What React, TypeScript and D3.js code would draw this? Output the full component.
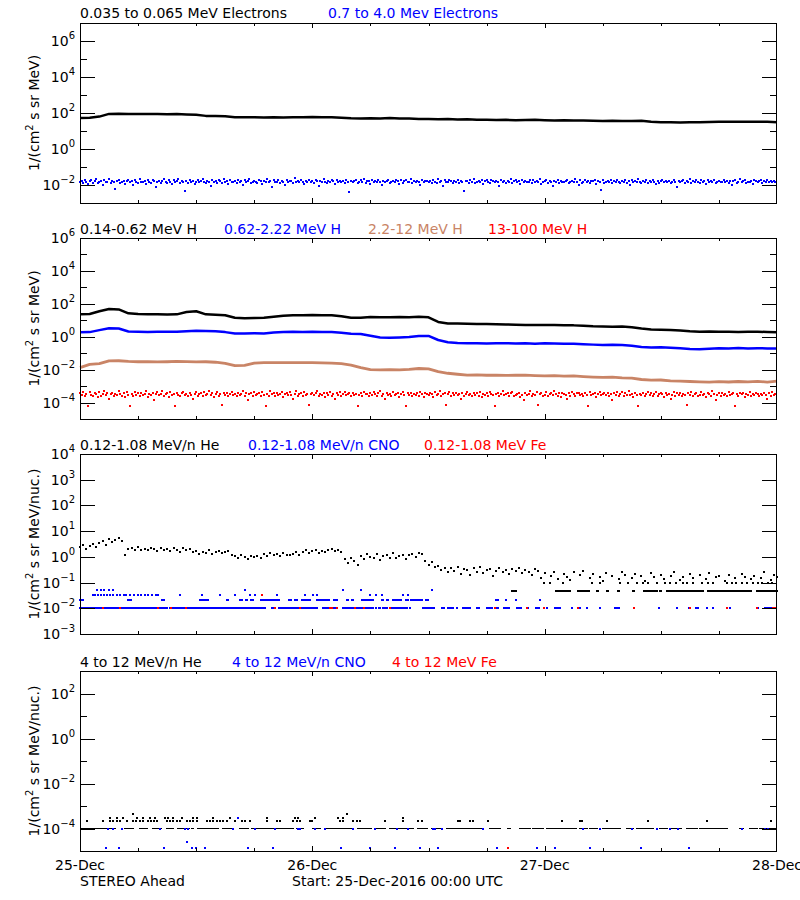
import React from 'react';
import * as d3 from 'd3';

const BLUE = '#0000ff';
const RED = '#ff0000';
const BROWN = '#c98466';
const BLACK = '#000000';
const FONT = "'DejaVu Sans', sans-serif";

// ---------- x axis (hours since 25-Dec-2016 00:00 UTC) ----------
const xDayLabels = ['25-Dec', '26-Dec', '27-Dec', '28-Dec'];
const xDayHours = [0, 24, 48, 72];

// ---------- Panel 1 : electrons (log10 values) ----------
// 0.035-0.065 MeV electrons, hourly
const p1ElecLow = [1.72, 1.73, 1.80, 1.95, 1.96, 1.95, 1.94, 1.95, 1.94, 1.93, 1.94, 1.92, 1.90, 1.84, 1.83, 1.82, 1.77, 1.76, 1.77, 1.75, 1.76, 1.75, 1.77, 1.76, 1.78, 1.76, 1.77, 1.74, 1.71, 1.70, 1.71, 1.70, 1.72, 1.70, 1.69, 1.67, 1.66, 1.65, 1.66, 1.64, 1.65, 1.63, 1.62, 1.61, 1.62, 1.60, 1.61, 1.62, 1.60, 1.59, 1.60, 1.58, 1.58, 1.57, 1.56, 1.57, 1.56, 1.55, 1.57, 1.52, 1.49, 1.48, 1.47, 1.48, 1.49, 1.50, 1.51, 1.52, 1.51, 1.52, 1.52, 1.51, 1.49];
// 0.7-4.0 MeV electrons, 10-minute samples (log10 x 100)
const p1ElecHigh = [
  -182, -176, -189, -171, -185, -193, -179, -174, -187, -180, -169, -191,
  -184, -178, -198, -173, -186, -181, -167, -190, -176, -184, -224, -179,
  -172, -188, -182, -175, -193, -180, -170, -186, -178, -201, -174, -183,
  -189, -168, -181, -185, -177, -196, -173, -182, -187, -171, -179, -213,
  -184, -175, -190, -178, -169, -183, -188, -174, -181, -197, -172, -185,
  -180, -166, -189, -177, -183, -233, -175, -187, -170, -182, -178, -192,
  -181, -173, -186, -179, -168, -184, -191, -176, -182, -205, -171, -185,
  -178, -187, -174, -180, -189, -169, -183, -177, -195, -172, -186, -181,
  -175, -188, -170, -182, -179, -201, -173, -185, -178, -167, -190, -184,
  -176, -183, -187, -172, -180, -193, -175, -182, -169, -186, -179, -211,
  -174, -185, -181, -171, -188, -177, -183, -198, -170, -184, -180, -175,
  -189, -163, -182, -178, -186, -173, -181, -194, -176, -185, -171, -183,
  -179, -187, -172, -180, -205, -175, -184, -169, -182, -189, -177, -185,
  -173, -180, -196, -171, -186, -178, -183, -175, -188, -170, -181, -240,
  -176, -184, -179, -172, -190, -182, -174, -185, -169, -187, -180, -177,
  -192, -173, -183, -179, -186, -171, -181, -202, -175, -184, -178, -170,
  -188, -182, -176, -185, -173, -180, -195, -172, -187, -179, -174, -183,
  -181, -169, -189, -177, -184, -175, -182, -199, -171, -186, -178, -180,
  -183, -177, -190, -174, -181, -187, -168, -185, -179, -208, -173, -182,
  -186, -172, -180, -191, -176, -184, -170, -188, -178, -183, -231, -175,
  -179, -187, -173, -182, -169, -190, -181, -176, -185, -172, -194, -180,
  -174, -183, -188, -171, -179, -186, -177, -182, -203, -170, -184, -178,
  -190, -175, -181, -168, -187, -180, -173, -185, -179, -196, -172, -183,
  -177, -186, -182, -174, -189, -171, -184, -178, -181, -167, -192, -185,
  -180, -173, -187, -179, -184, -207, -176, -182, -170, -188, -175, -181,
  -186, -178, -172, -190, -183, -176, -185, -169, -181, -198, -174, -187,
  -182, -171, -184, -179, -188, -175, -180, -173, -193, -177, -185, -226,
  -173, -189, -181, -176, -183, -170, -187, -179, -184, -172, -182, -191,
  -178, -185, -174, -188, -180, -200, -171, -184, -177, -186, -169, -183,
  -187, -176, -182, -173, -190, -179, -185, -172, -181, -194, -175, -188,
  -180, -170, -186, -178, -183, -175, -189, -181, -174, -185, -210, -177,
  -184, -179, -172, -187, -176, -182, -168, -191, -180, -186, -173, -181,
  -188, -174, -183, -179, -197, -172, -185, -177, -182, -170, -189, -184,
  -176, -186, -181, -173, -184, -178, -190, -175, -202, -180, -171, -187,
  -182, -169, -185, -179, -174, -188, -181, -183, -176, -193, -172, -178,
  -186, -180, -173, -189, -177, -184, -171, -182, -178, -185, -175, -181,
];

// ---------- Panel 2 : protons (log10 values, hourly) ----------
const p2H1 = [1.36, 1.38, 1.55, 1.68, 1.66, 1.42, 1.38, 1.36, 1.37, 1.35, 1.36, 1.50, 1.55, 1.36, 1.34, 1.30, 1.15, 1.13, 1.14, 1.15, 1.22, 1.28, 1.30, 1.31, 1.32, 1.30, 1.31, 1.25, 1.16, 1.15, 1.20, 1.19, 1.18, 1.20, 1.19, 1.22, 1.18, 0.90, 0.80, 0.81, 0.79, 0.78, 0.77, 0.76, 0.75, 0.73, 0.72, 0.71, 0.72, 0.71, 0.70, 0.69, 0.66, 0.63, 0.62, 0.61, 0.62, 0.58, 0.50, 0.44, 0.42, 0.41, 0.38, 0.33, 0.31, 0.32, 0.30, 0.31, 0.29, 0.30, 0.30, 0.29, 0.27];
const p2H2 = [0.27, 0.28, 0.40, 0.51, 0.50, 0.32, 0.30, 0.29, 0.30, 0.31, 0.30, 0.34, 0.36, 0.35, 0.33, 0.28, 0.20, 0.19, 0.21, 0.20, 0.26, 0.29, 0.30, 0.29, 0.30, 0.29, 0.28, 0.24, 0.18, 0.16, 0.06, -0.05, -0.06, -0.04, -0.02, 0.04, 0.05, -0.20, -0.33, -0.38, -0.40, -0.39, -0.41, -0.40, -0.39, -0.41, -0.40, -0.42, -0.40, -0.41, -0.43, -0.42, -0.45, -0.48, -0.50, -0.49, -0.51, -0.55, -0.62, -0.66, -0.64, -0.67, -0.70, -0.74, -0.76, -0.73, -0.70, -0.71, -0.69, -0.72, -0.70, -0.71, -0.72];
const p2H3 = [-1.88, -1.68, -1.64, -1.47, -1.46, -1.50, -1.52, -1.51, -1.53, -1.52, -1.50, -1.51, -1.53, -1.52, -1.55, -1.62, -1.76, -1.74, -1.60, -1.58, -1.57, -1.58, -1.57, -1.58, -1.57, -1.59, -1.60, -1.64, -1.72, -1.88, -2.00, -2.02, -2.00, -2.01, -1.98, -1.93, -1.95, -2.12, -2.22, -2.28, -2.33, -2.32, -2.34, -2.33, -2.35, -2.34, -2.33, -2.36, -2.38, -2.37, -2.39, -2.38, -2.42, -2.45, -2.47, -2.46, -2.50, -2.52, -2.60, -2.64, -2.63, -2.68, -2.70, -2.72, -2.74, -2.76, -2.73, -2.75, -2.72, -2.74, -2.71, -2.76, -2.70];
// 13-100 MeV H, 10-minute samples (log10 x 100)
const p2H4 = [
  -345, -352, -338, -360, -348, -420, -333, -355, -362, -341, -350, -368,
  -336, -358, -347, -329, -356, -344, -381, -351, -339, -362, -346, -355,
  -332, -349, -358, -343, -366, -337, -353, -418, -347, -359, -334, -352,
  -345, -361, -340, -356, -349, -330, -364, -348, -354, -342, -386, -351,
  -338, -357, -346, -331, -359, -350, -343, -367, -336, -355, -348, -422,
  -341, -353, -360, -345, -335, -357, -349, -363, -340, -352, -378, -346,
  -333, -358, -350, -344, -361, -338, -355, -347, -329, -356, -342, -365,
  -351, -337, -359, -348, -415, -343, -354, -340, -362, -349, -334, -357,
  -346, -360, -339, -352, -347, -331, -358, -345, -383, -350, -341, -363,
  -336, -355, -349, -344, -361, -338, -353, -420, -347, -359, -332, -351,
  -345, -362, -340, -356, -348, -334, -364, -350, -343, -357, -338, -352,
  -376, -346, -331, -359, -349, -342, -360, -337, -354, -347, -416, -351,
  -339, -356, -345, -328, -361, -348, -353, -340, -365, -344, -352, -336,
  -358, -349, -381, -342, -355, -338, -360, -347, -333, -357, -350, -344,
  -362, -339, -354, -346, -419, -352, -341, -359, -335, -350, -347, -363,
  -343, -356, -338, -351, -360, -345, -332, -358, -349, -377, -340, -354,
  -346, -361, -337, -353, -348, -342, -364, -350, -334, -357, -423, -345,
  -352, -339, -360, -347, -355, -341, -358, -336, -350, -365, -344, -349,
  -357, -343, -350, -366, -337, -354, -346, -330, -359, -351, -340, -417,
  -348, -335, -361, -344, -353, -339, -356, -347, -380, -342, -358, -350,
  -333, -355, -349, -362, -341, -352, -345, -359, -338, -364, -347, -353,
  -344, -360, -336, -351, -357, -422, -346, -340, -363, -349, -331, -356,
  -350, -342, -358, -345, -334, -361, -353, -347, -339, -366, -352, -384,
  -341, -357, -348, -329, -360, -346, -354, -337, -415, -350, -343, -358,
  -355, -338, -362, -349, -344, -356, -332, -351, -359, -345, -367, -340,
  -347, -353, -379, -342, -358, -336, -350, -363, -345, -339, -356, -348,
  -360, -344, -352, -418, -337, -355, -349, -341, -364, -346, -333, -357,
  -349, -339, -356, -345, -361, -350, -382, -343, -354, -338, -359, -347,
  -336, -358, -344, -352, -330, -357, -348, -365, -341, -353, -420, -346,
  -355, -342, -361, -349, -337, -354, -345, -359, -351, -334, -362, -348,
  -343, -350, -366, -339, -356, -347, -378, -352, -338, -360, -345, -355,
  -340, -363, -349, -357, -416, -344, -353, -336, -359, -350, -342, -361,
  -352, -337, -355, -346, -364, -341, -351, -358, -331, -348, -385, -354,
  -345, -359, -340, -353, -348, -362, -337, -356, -350, -343, -421, -347,
  -358, -344, -351, -339, -366, -349, -354, -335, -361, -346, -352, -342,
  -350, -363, -347, -356, -341, -353, -380, -344, -359, -338, -355, -349,
];

// ---------- Panel 3 : 0.12-1.08 MeV/n heavy ions ----------
// He, 20-minute samples from 00:00 (log10 x 100)
const p3HeEarly = [
  38, 45, 32, 42, 50, 40,
  55, 62, 48, 70, 58, 66, 74, 60,
  8, 30, 34, 26, 38, 28, 32,
  25, 36, 29, 22, 34, 27, 31, 24, 35, 28, 20, 33, 26, 30, 18,
  24, 12, 20, 15, 26, 10, 19, 22, 14, 17, 21, 8,
  2, -5, 8, 0, -8, 5, -2, 3, -4,
  10, 4, 14, 7, 12, 2, 16, 9, 6,
  12, 20, 8, 18, 25, 14, 22, 28, 16, 24, 19, 26, 30, 21, 27, 18,
  -10, -25, -5, -18, -30,
  5, -8, 12, 0, -5, 10, -12, 4, 8, -3, 14, -6, 2, 9, -10, 6, 11, 1, 15, 12,
  -15, -30, -20, -40,
];
// He, 20-minute samples from 37:00 (null = no point)
const p3HeLate = [
  -35, -52, -42, -60, -45, -55, -38, -66, -48, -52, -70, -44, -58, -40, -62, -50,
  -46, -75, -55, -42, -60, -52, -68, -48, -56, -44, -64, -50, -58, -72, -46, -54,
  -84, -62, null, -75, -58, -85, null, -66, -80, -90, -60, null, -72, -56, null, -84,
  -68, null, -78, -92, -64, null, -74, null, -88, -58, -70, null, -82, -66, null, -76,
  -94, null, -62, -80, null, -70, -86, null, -74, -60, null, -90, -78, null, -68, -84,
  null, -72, null, -88, -64, null, -80, -76, null, -92, -70, null, -84, null, -66, -78,
  null, -88, -74, null, -82, -60, null, -90, -72, -80,
];
// He quantised floor values
const p3HeTenthHours = [47.9, 48.6, 49.9, 52.9, 53.7, 55.8, 56.6, 57.5, 58.2, 58.7, 59.6, 60.4, 60.9, 61.6, 62.3, 62.7, 63.3, 64.3, 64.9, 65.4, 66.8, 67.4, 67.8, 68.4, 68.9, 69.5, 70.0, 70.5, 71.1, 71.5];
const p3HeFloorRuns = [[44.6, 45.0], [49.2, 50.6], [51.4, 52.5], [53.4, 53.5], [54.4, 54.5], [55.6, 55.7], [57.1, 57.2], [58.3, 59.6], [59.9, 60.0], [60.6, 63.2], [63.3, 64.3], [64.9, 67.5], [67.7, 69.4], [69.9, 72]];
// CNO at 0.010 (runs of hours)
const p3CnoRunsA = [[0, 2.0], [2.2, 3.1], [3.3, 4.0], [4.2, 5.4], [5.6, 8.0], [8.2, 9.0], [9.3, 10.9], [11.1, 12.3], [12.5, 14.8], [15.0, 16.5], [16.7, 17.0], [17.1, 17.9], [18.1, 19.1], [19.8, 19.9], [20.6, 20.9], [21.0, 22.6], [22.8, 24.0], [24.2, 24.5], [25.1, 26.1], [26.3, 26.3], [27.2, 28.2], [28.6, 29.1], [29.3, 29.5], [29.8, 30.3], [30.6, 30.6], [30.9, 31.0], [31.3, 31.7], [32.2, 33.0], [33.3, 33.8], [34.1, 34.1], [35.4, 35.8], [36.0, 36.2], [36.5, 36.6], [37.4, 37.6], [38.0, 38.5], [38.9, 38.9], [39.6, 40.3], [41.0, 41.2], [42.0, 42.5], [43.1, 43.2], [43.8, 44.3], [45.1, 45.5], [46.3, 46.3], [47.1, 47.4], [48.2, 48.2], [49.1, 49.6], [50.8, 50.8], [51.4, 51.4], [51.7, 51.7], [52.4, 52.4], [53.7, 53.7], [55.3, 55.7], [59.8, 59.8], [61.7, 61.7], [62.9, 62.9], [63.6, 63.8], [64.8, 64.8], [65.4, 65.4], [66.8, 66.8], [67.1, 67.1], [70.0, 70.0], [70.8, 71.6]];
// CNO at 0.021 (runs of hours)
const p3CnoRunsB = [[0, 0.3], [5.0, 5.3], [8.5, 8.7], [12.4, 13.2], [15.2, 15.3], [16.5, 16.7], [17.1, 17.2], [17.7, 17.9], [18.7, 18.9], [19.1, 19.3], [19.5, 20.5], [21.6, 21.8], [22.2, 22.4], [22.9, 23.2], [23.5, 23.8], [24.5, 25.5], [25.6, 25.7], [26.2, 26.5], [27.6, 27.7], [28.1, 28.2], [29.1, 30.1], [30.3, 30.3], [31.2, 31.3], [31.7, 31.8], [32.3, 32.7], [32.8, 33.1], [33.7, 33.9], [34.2, 35.3], [35.7, 35.9], [43.0, 43.2], [44.0, 44.0], [45.0, 45.0], [47.5, 47.5]];
// CNO at 0.033 and 0.051 (hours)
const p3CnoC = [1.3, 1.6, 1.9, 2.2, 2.5, 2.8, 3.1, 3.4, 3.8, 4.1, 4.5, 4.8, 5.2, 5.6, 6.0, 6.3, 6.7, 7.0, 7.4, 7.8, 8.1, 10.3, 12.6, 14.5, 16.0, 17.6, 18.1, 20.4, 23.2, 24.1, 24.5, 30.0, 30.6, 31.2, 33.4, 33.9];
const p3CnoD = [1.8, 2.2, 2.5, 3.0, 3.4, 17.0, 27.2, 29.0, 36.4];
// Fe (hours)
const p3FeA = [2.4, 4.1, 8.1, 9.4, 11.0, 20.1, 22.7, 25.8, 26.0, 26.5, 28.4, 29.3, 32.0, 42.9, 46.2, 47.9, 51.4, 57.2, 63.0, 66.8, 69.9, 71.6, 71.8];
const p3FeC = [18.8];

// ---------- Panel 4 : 4-12 MeV/n heavy ions (hours at quantised levels) ----------
const p4HeFloorRuns = [[0.1, 1.5], [1.7, 2.8], [3.1, 3.6], [4.6, 5.4], [6.2, 6.9], [7.5, 8.3], [9.0, 9.6], [10.1, 11.2], [11.6, 11.7], [12.2, 13.1], [13.2, 14.2], [14.8, 15.7], [16.5, 17.3], [17.8, 18.6], [18.8, 19.9], [20.1, 22.0], [22.4, 23.0], [24.1, 24.8], [25.3, 27.4], [27.6, 28.2], [28.7, 30.0], [30.5, 31.5], [32.0, 33.1], [33.4, 34.4], [34.9, 35.8], [36.4, 37.4], [37.9, 41.5], [42.4, 43.4], [44.2, 44.4], [45.5, 46.5], [46.8, 47.8], [48.2, 49.3], [49.6, 51.3], [51.7, 52.4], [52.7, 53.4], [54.0, 55.8], [56.5, 57.1], [57.5, 59.2], [59.9, 60.6], [60.9, 62.0], [62.7, 63.7], [64.0, 65.1], [65.4, 66.8], [68.2, 68.5], [69.2, 69.9], [70.2, 71.9]];
const p4HeMid = [0.7, 2.4, 3.1, 3.4, 3.8, 4.1, 4.9, 5.5, 5.8, 6.2, 6.5, 7.0, 7.3, 7.6, 8.0, 9.0, 9.3, 9.6, 10.0, 10.3, 11.1, 11.4, 11.7, 12.1, 13.1, 13.4, 13.7, 14.2, 14.5, 14.8, 15.2, 16.0, 16.7, 17.0, 17.6, 19.3, 20.4, 20.7, 22.0, 22.4, 22.7, 23.8, 24.0, 26.9, 27.2, 28.2, 28.6, 28.9, 31.5, 33.4, 34.9, 35.3, 39.0, 39.3, 40.3, 40.6, 42.1, 49.8, 51.7, 51.9, 54.4, 58.7, 64.8, 71.4];
const p4HeHigh = [3.1, 3.8, 4.4, 5.9, 6.5, 7.2, 7.7, 8.8, 9.1, 9.6, 10.5, 11.7, 12.1, 13.7, 15.5, 19.3, 22.2, 22.5, 24.3, 26.7, 27.2, 33.4];
const p4HeTop = [5.5, 27.6];
const p4CnoFloor = [2.9, 3.4, 4.3, 8.3, 10.8, 11.2, 15.8, 18.1, 20.1, 22.5, 22.7, 24.3, 25.3, 28.2, 30.5, 32.7, 33.9, 36.5, 36.7, 37.4, 41.6, 52.0, 53.7, 57.0, 59.6, 60.9, 61.8, 68.4, 70.8, 71.1];
const p4CnoLow = [2.7, 4.0, 8.7, 11.6, 12.0, 12.9, 17.4, 19.9, 27.0, 30.0, 32.5, 35.1, 37.0, 43.1, 47.2, 49.1, 52.7, 58.0, 62.9];
const p4CnoMid = [11.1];
const p4CnoUp = [16.3];
const p4FeLow = [44.2];

// ---------- layout ----------
const X0 = 80;
const X1 = 777;
const xScale = d3.scaleLinear().domain([0, 72]).range([X0, X1]);

type Panel = { top: number; bottom: number; lo: number; hi: number; labels: number[]; unit: string };
const P1: Panel = { top: 23, bottom: 203, lo: -3, hi: 7, labels: [6, 4, 2, 0, -2], unit: 'MeV)' };
const P2: Panel = { top: 238, bottom: 419, lo: -5, hi: 6, labels: [6, 4, 2, 0, -2, -4], unit: 'MeV)' };
const P3: Panel = { top: 454, bottom: 634, lo: -3, hi: 4, labels: [4, 3, 2, 1, 0, -1, -2, -3], unit: 'MeV/nuc.)' };
const P4: Panel = { top: 671, bottom: 851, lo: -5, hi: 3, labels: [2, 0, -2, -4], unit: 'MeV/nuc.)' };

const yScaleFor = (p: Panel) => d3.scaleLog().domain([10 ** p.lo, 10 ** p.hi]).range([p.bottom, p.top]);

function Frame({ p }: { p: Panel }) {
  const y = yScaleFor(p);
  const exps = d3.range(p.lo, p.hi + 1);
  const hours = d3.range(6, 72, 6);
  return (
    <g>
      <rect x={X0 + 0.5} y={p.top + 0.5} width={X1 - X0 - 1} height={p.bottom - p.top} fill="none" stroke={BLACK} strokeWidth={1} />
      {exps.filter((e) => e > p.lo && e < p.hi).map((e) => {
        const yy = Math.round(y(10 ** e)) + 0.5;
        const len = p.labels.includes(e) ? 15 : 7;
        return (
          <g key={'t' + e} stroke={BLACK}>
            <line x1={X0} x2={X0 + len} y1={yy} y2={yy} />
            <line x1={X1 - len} x2={X1} y1={yy} y2={yy} />
          </g>
        );
      })}
      {p.labels.map((e) => {
        const yy = y(10 ** e);
        return (
          <text key={'l' + e} x={75} y={yy + 5} textAnchor="end" fontFamily={FONT} fontSize={14} fill={BLACK}>
            10<tspan dy={-7} fontSize={10}>{e < 0 ? '\u2212' + Math.abs(e) : String(e)}</tspan>
          </text>
        );
      })}
      {hours.map((h) => {
        const xx = Math.round(xScale(h)) + 0.5;
        const len = h % 24 === 0 ? 5 : 3;
        return (
          <g key={'x' + h} stroke={BLACK}>
            <line x1={xx} x2={xx} y1={p.bottom} y2={p.bottom - len} />
            <line x1={xx} x2={xx} y1={p.top} y2={p.top + len} />
          </g>
        );
      })}
      <text transform={`translate(39,${(p.top + p.bottom) / 2}) rotate(-90)`} textAnchor="middle" fontFamily={FONT} fontSize={14} fill={BLACK}>
        1/(cm<tspan dy={-6} fontSize={10}>2</tspan><tspan dy={6}>{' s sr ' + p.unit}</tspan>
      </text>
    </g>
  );
}

type Title = { t: string; c: string; x: number };
function Titles({ items, y }: { items: Title[]; y: number }) {
  return (
    <g>
      {items.map((it, i) => (
        <text key={i} x={it.x} y={y} fontFamily={FONT} fontSize={14} fill={it.c}>{it.t}</text>
      ))}
    </g>
  );
}

function Line({ p, vals, color, w = 2.5 }: { p: Panel; vals: number[]; color: string; w?: number }) {
  const y = yScaleFor(p);
  const gen = d3.line<number>().x((_, i) => xScale(i)).y((v) => y(10 ** v));
  return <path d={gen(vals) || ''} fill="none" stroke={color} strokeWidth={w} strokeLinejoin="round" />;
}

function Dots({ p, pts, color, size = 2 }: { p: Panel; pts: { h: number; v: number }[]; color: string; size?: number }) {
  const y = yScaleFor(p);
  return (
    <g fill={color}>
      {pts.filter((d) => d.h <= 72).map((d, i) => (
        <rect key={i} x={Math.round(xScale(d.h) - size / 2)} y={Math.round(y(10 ** d.v) - size / 2)} width={size} height={size} />
      ))}
    </g>
  );
}

function Runs({ p, runs, level, color, h = 2 }: { p: Panel; runs: number[][]; level: number; color: string; h?: number }) {
  const y = yScaleFor(p);
  const yy = Math.round(y(10 ** level) - h / 2);
  return (
    <g fill={color}>
      {runs.map((r, i) => (
        <rect key={i} x={Math.round(xScale(r[0]) - 1)} y={yy} width={Math.max(2, Math.round(xScale(r[1]) - xScale(r[0]) + 2))} height={h} />
      ))}
    </g>
  );
}

const cadence = (arr: (number | null)[], start: number, step: number) =>
  arr.map((v, i) => (v === null ? null : { h: start + i * step, v: v / 100 })).filter((d) => d !== null) as { h: number; v: number }[];
const atLevel = (hours: number[], level: number) => hours.map((h) => ({ h, v: level }));

export default function App() {
  return (
    <svg width={800} height={900} style={{ position: 'absolute', left: 0, top: 0, background: '#fff' }}>
      <rect x={0} y={0} width={800} height={900} fill="#fff" />

      {/* Panel 1 */}
      <Titles y={18} items={[{ t: '0.035 to 0.065 MeV Electrons', c: BLACK, x: 80 }, { t: '0.7 to 4.0 Mev Electrons', c: BLUE, x: 328 }]} />
      <Line p={P1} vals={p1ElecLow} color={BLACK} w={2.5} />
      <Dots p={P1} pts={cadence(p1ElecHigh, 0, 1 / 6)} color={BLUE} />
      <Frame p={P1} />

      {/* Panel 2 */}
      <Titles y={234} items={[{ t: '0.14-0.62 MeV H', c: BLACK, x: 80 }, { t: '0.62-2.22 MeV H', c: BLUE, x: 224 }, { t: '2.2-12 MeV H', c: BROWN, x: 368 }, { t: '13-100 MeV H', c: RED, x: 488 }]} />
      <Dots p={P2} pts={cadence(p2H4, 0, 1 / 6)} color={RED} />
      <Line p={P2} vals={p2H3} color={BROWN} w={2.8} />
      <Line p={P2} vals={p2H2} color={BLUE} w={2.5} />
      <Line p={P2} vals={p2H1} color={BLACK} w={2.5} />
      <Frame p={P2} />

      {/* Panel 3 */}
      <Titles y={450} items={[{ t: '0.12-1.08 MeV/n He', c: BLACK, x: 80 }, { t: '0.12-1.08 MeV/n CNO', c: BLUE, x: 248 }, { t: '0.12-1.08 MeV Fe', c: RED, x: 424 }]} />
      <Dots p={P3} pts={cadence(p3HeEarly, 0, 1 / 3)} color={BLACK} />
      <Dots p={P3} pts={cadence(p3HeLate, 37, 1 / 3)} color={BLACK} />
      <Dots p={P3} pts={atLevel(p3HeTenthHours, -1.0)} color={BLACK} />
      <Runs p={P3} runs={p3HeFloorRuns} level={-1.32} color={BLACK} />
      <Runs p={P3} runs={p3CnoRunsA} level={-2.0} color={BLUE} />
      <Runs p={P3} runs={p3CnoRunsB} level={-1.68} color={BLUE} />
      <Dots p={P3} pts={atLevel(p3CnoC, -1.48)} color={BLUE} />
      <Dots p={P3} pts={atLevel(p3CnoD, -1.29)} color={BLUE} />
      <Dots p={P3} pts={atLevel(p3FeA, -2.0)} color={RED} />
      <Dots p={P3} pts={atLevel(p3FeC, -1.48)} color={RED} />
      <Frame p={P3} />

      {/* Panel 4 */}
      <Titles y={667} items={[{ t: '4 to 12 MeV/n He', c: BLACK, x: 80 }, { t: '4 to 12 MeV/n CNO', c: BLUE, x: 232 }, { t: '4 to 12 MeV Fe', c: RED, x: 392 }]} />
      <Runs p={P4} runs={p4HeFloorRuns} level={-4.0} color={BLACK} h={1} />
      <Dots p={P4} pts={atLevel(p4HeMid, -3.67)} color={BLACK} />
      <Dots p={P4} pts={atLevel(p4HeHigh, -3.52)} color={BLACK} />
      <Dots p={P4} pts={atLevel(p4HeTop, -3.36)} color={BLACK} />
      <Dots p={P4} pts={atLevel(p4CnoFloor, -4.0)} color={BLUE} />
      <Dots p={P4} pts={atLevel(p4CnoLow, -4.88)} color={BLUE} />
      <Dots p={P4} pts={atLevel(p4CnoMid, -4.59)} color={BLUE} />
      <Dots p={P4} pts={atLevel(p4CnoUp, -3.55)} color={BLUE} />
      <Dots p={P4} pts={atLevel(p4FeLow, -4.88)} color={RED} />
      <Frame p={P4} />

      {/* bottom axis labels */}
      {xDayLabels.map((lab, i) => (
        <text key={lab} x={xScale(xDayHours[i])} y={870} textAnchor="middle" fontFamily={FONT} fontSize={14} fill={BLACK}>{lab}</text>
      ))}
      <text x={80} y={886} fontFamily={FONT} fontSize={14} fill={BLACK}>STEREO Ahead</text>
      <text x={292} y={886} fontFamily={FONT} fontSize={14} fill={BLACK}>Start: 25-Dec-2016 00:00 UTC</text>
    </svg>
  );
}
